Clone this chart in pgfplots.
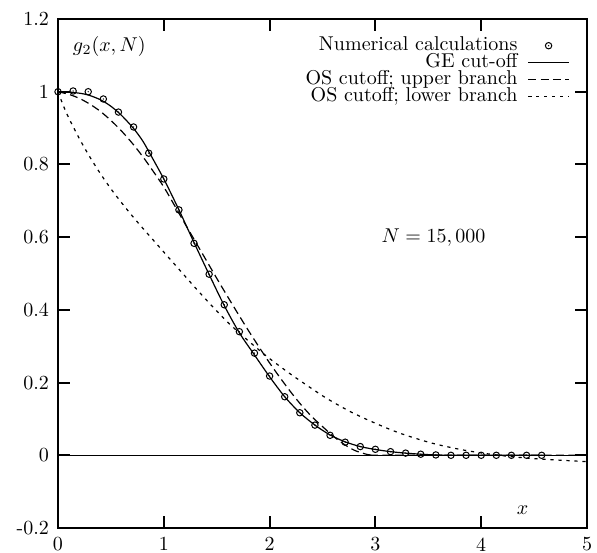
\documentclass[border=0pt]{standalone}
\usepackage{pgfplots}
\pgfplotsset{compat=1.18}
\pgfdeclareplotmark{odot}{%
  \pgfpathcircle{\pgfpointorigin}{\pgfplotmarksize}\pgfusepathqstroke
  \pgfpathcircle{\pgfpointorigin}{0.35pt}\pgfusepathqfill}
\begin{document}
\begin{tikzpicture}
\begin{axis}[
  scale only axis, width=264.5pt, height=254.5pt,
  xmin=0, xmax=5, ymin=-0.2, ymax=1.2,
  xtick={0,1,2,3,4,5}, xticklabels={0,1,2,3,4,5},
  ytick={-0.2,0,0.2,0.4,0.6,0.8,1,1.2},
  yticklabels={-0.2,0,0.2,0.4,0.6,0.8,1,1.2},
  tick align=inside, major tick length=5.8pt,
  every tick/.style={line width=1pt, black},
  axis line style={line width=1pt},
  xticklabel style={yshift=-1.2pt},
  yticklabel style={xshift=-1pt},
  legend plot pos=right,
  legend cell align=right,
  legend image code/.code={\draw[mark repeat=2,mark phase=2,#1] plot coordinates {(0cm,0cm) (0.36cm,0cm) (0.72cm,0cm)};},
  legend style={draw=none, fill=none, at={(axis description cs:0.968,0.965)}, anchor=north east,
    cells={anchor=east}, nodes={inner sep=0pt, text height=6.5pt, text depth=2pt},
    column sep=5pt, row sep=0pt, inner sep=0pt},
]
\addplot[black, line width=0.5pt, forget plot] coordinates {(0,0) (5,0)};
\addplot[only marks, mark=odot, mark size=1.6pt, black, line width=0.5pt]
 table[x expr=\coordindex/7, y index=0] {
y
1.000
1.002
1.000
0.980
0.944
0.903
0.831
0.760
0.675
0.583
0.498
0.414
0.340
0.281
0.218
0.161
0.117
0.083
0.055
0.036
0.024
0.0165
0.010
0.006
0.003
0.001
0.000
0.000
0.000
0.000
0.000
0.000
0.000
};
\addlegendentry{Numerical calculations}
\addplot[black, line width=0.6pt, smooth] coordinates {
(0,1.0) (0.1,0.999) (0.2,0.996) (0.286,0.991) (0.4,0.978) (0.5,0.96) (0.6,0.935)
(0.714,0.899) (0.8,0.865) (0.857,0.836) (1.0,0.76) (1.143,0.675) (1.286,0.585)
(1.429,0.497) (1.571,0.412) (1.714,0.337) (1.857,0.276) (2.0,0.216) (2.143,0.161)
(2.286,0.117) (2.429,0.083) (2.571,0.056) (2.714,0.037) (2.857,0.024) (3.0,0.016)
(3.143,0.010) (3.286,0.006) (3.429,0.003) (3.571,0.001) (3.8,0) (4.6,0)};
\addlegendentry{GE cut-off}
\addplot[black, line width=0.6pt, smooth, dash pattern=on 4pt off 2.2pt] coordinates {
(0,1.0) (0.1,0.993) (0.2,0.982) (0.3,0.966) (0.4,0.946) (0.5,0.921) (0.6,0.892)
(0.7,0.859) (0.8,0.822) (0.9,0.781) (1.0,0.738) (1.1,0.688) (1.2,0.637) (1.3,0.587)
(1.4,0.537) (1.5,0.487) (1.6,0.438) (1.7,0.39) (1.8,0.343) (1.9,0.298) (2.0,0.254)
(2.1,0.213) (2.2,0.174) (2.3,0.138) (2.4,0.106) (2.5,0.079) (2.6,0.053) (2.7,0.031)
(2.8,0.014) (2.9,0.004) (2.95,0.001) (3.0,0) (4,0) (5,0)};
\addlegendentry{OS cutoff; upper branch}
\addplot[black, line width=0.6pt, smooth, dash pattern=on 1.6pt off 2.4pt] coordinates {
(0,1.0) (0.05,0.962) (0.1,0.929) (0.2,0.872) (0.3,0.821) (0.4,0.775) (0.5,0.733)
(0.6,0.695) (0.7,0.659) (0.8,0.625) (0.9,0.592) (1.0,0.559) (1.1,0.526) (1.2,0.493)
(1.3,0.46) (1.4,0.428) (1.5,0.397) (1.6,0.367) (1.72,0.335) (1.85,0.302) (2.0,0.266)
(2.19,0.225) (2.35,0.193) (2.537,0.157) (2.757,0.121) (2.977,0.091) (3.23,0.061)
(3.54,0.033) (3.86,0.013) (4.17,0.0) (4.49,-0.009) (5,-0.0175)};
\addlegendentry{OS cutoff; lower branch}
\node[anchor=west] at (axis cs:0.075,1.125) {$g_2(x,N)$};
\node at (axis cs:3.55,0.6) {$N=15,000$};
\node at (axis cs:4.39,-0.15) {$x$};
\end{axis}
\pgfresetboundingbox
\path[use as bounding box] ([shift={(-29pt,-12pt)}]current axis.south west) rectangle ([shift={(5pt,9.5pt)}]current axis.north east);
\end{tikzpicture}
\end{document}
